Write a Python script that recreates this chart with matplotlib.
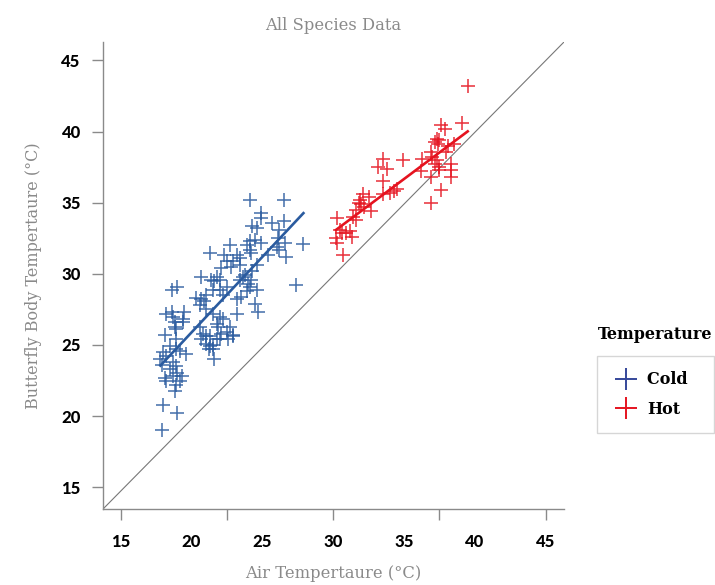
"""Butterfly body temperature vs air temperature, cold and hot groups."""

import matplotlib

matplotlib.use("Agg")
import matplotlib.pyplot as plt
import numpy as np
from matplotlib.lines import Line2D


cold_air = [
    24.1, 26.5, 24.9, 24.9, 24.3, 24.6, 25.7, 26.5, 26.2, 26.1,
    24.1, 24.5, 24.9, 23.9, 22.7, 26.6, 26.7, 26.2, 27.9, 25.4,
    24.1, 21.3, 22.3, 23.2, 23.4, 22.9, 22.5, 22.1, 24.6, 24.3,
    23.8, 24.2, 24.1, 24.6, 20.7, 21.8, 21.6, 22.0, 21.4, 27.4,
    23.4, 23.6, 18.6, 19.0, 22.5, 22.0, 21.5, 22.2, 21.0, 20.3,
    20.7, 20.6, 23.5, 23.2, 24.5, 24.7, 18.2, 18.6, 18.7, 19.5,
    19.4, 23.2, 21.0, 21.5, 22.0, 22.2, 21.8, 18.8, 18.8, 18.9,
    18.1, 20.6, 20.8, 21.0, 20.7, 21.0, 21.3, 22.7, 22.5, 22.9,
    22.1, 22.0, 22.6, 21.5, 21.6, 18.5, 18.9, 19.6, 18.0, 18.2,
    18.7, 18.9, 18.5, 19.0, 18.7, 19.2, 18.2, 18.9, 18.8, 17.8,
    17.9, 18.0, 19.0, 17.9, 24.2, 22.8, 24.0, 20.9, 21.9, 22.9,
    21.3, 21.8, 26.0, 23.4, 23.9, 19.2, 19.3, 21.5, 21.2, 18.9,
    19.4, 18.1,
]
cold_body = [
    35.2, 35.2, 34.3, 33.9, 33.4, 33.2, 33.6, 33.7, 33.1, 32.5,
    32.3, 32.4, 32.2, 32.0, 32.0, 32.2, 31.2, 31.7, 32.1, 31.3,
    31.7, 31.5, 31.3, 31.3, 31.1, 30.9, 30.9, 30.4, 30.6, 30.2,
    29.9, 29.6, 29.1, 28.9, 29.8, 29.8, 29.5, 29.6, 29.6, 29.2,
    29.6, 29.8, 28.9, 29.1, 29.1, 28.9, 28.9, 28.5, 28.5, 28.3,
    28.2, 27.8, 28.4, 28.2, 27.9, 27.3, 27.2, 27.3, 27.0, 27.3,
    26.8, 27.2, 27.5, 27.2, 27.0, 26.8, 26.5, 26.6, 26.3, 26.1,
    25.7, 26.3, 25.8, 25.6, 25.4, 25.1, 24.9, 26.3, 25.9, 25.7,
    25.8, 25.4, 25.4, 25.0, 24.0, 24.9, 24.7, 24.4, 24.5, 24.2,
    23.8, 23.5, 23.3, 23.0, 22.8, 22.5, 22.5, 22.2, 21.8, 24.0,
    23.6, 20.8, 20.2, 19.0, 31.5, 30.5, 29.3, 28.1, 26.3, 25.6,
    25.6, 25.4, 31.9, 30.6, 28.8, 24.6, 22.8, 24.7, 24.7, 25.4,
    26.6, 22.7,
]

hot_air = [
    39.5, 39.1, 37.6, 37.9, 37.3, 37.2, 37.5, 37.4, 38.5, 38.1,
    38.0, 36.9, 37.0, 37.3, 37.2, 37.5, 36.3, 36.2, 36.9, 38.3,
    38.3, 38.3, 37.5, 37.6, 36.9, 33.5, 33.2, 33.8, 33.5, 34.9,
    34.5, 34.3, 33.5, 32.1, 32.5, 31.9, 32.0, 32.2, 32.7, 31.6,
    31.4, 31.6, 30.3, 30.5, 30.6, 30.9, 31.2, 31.3, 30.2, 30.3,
    30.7, 31.8, 34.0,
]
hot_body = [
    43.2, 40.6, 40.5, 40.2, 39.5, 39.3, 39.4, 39.1, 39.1, 39.0,
    38.6, 38.6, 38.2, 38.0, 37.7, 37.5, 38.1, 37.2, 36.8, 37.7,
    37.3, 36.8, 37.3, 35.9, 35.0, 38.1, 37.5, 37.4, 36.5, 38.0,
    36.0, 35.8, 35.6, 35.6, 35.4, 35.2, 34.9, 34.7, 34.4, 34.5,
    34.0, 33.8, 33.9, 33.1, 32.9, 32.9, 33.0, 32.6, 32.5, 32.2,
    31.3, 35.0, 35.7,
]

x_labels = [15, 20, 25, 30, 35, 40, 45]
x_marks = [15, 22.5, 30, 37.5, 45]
y_labels = [15, 20, 25, 30, 35, 40, 45]

BLUE = "#2a5b9f"
RED = "#e5131f"
GREY = "#8a8a8a"
SERIF = "DejaVu Serif"


def fit_line(ax, x, y, color):
    x = np.asarray(x)
    y = np.asarray(y)
    slope, icpt = np.polyfit(x, y, 1)
    xs = np.array([x.min(), x.max()])
    ax.plot(xs, slope * xs + icpt, color=color, linewidth=1.9, zorder=4)


def main() -> None:
    fig = plt.figure(figsize=(7.15, 5.85), dpi=100)
    ax = fig.add_axes([0.1441, 0.1299, 0.6447, 0.7983])

    ax.plot([0, 1], [0, 1], transform=ax.transAxes, color="#777777", linewidth=0.8, zorder=1)

    ax.scatter(cold_air, cold_body, marker="+", s=100, linewidths=1.15, color=BLUE, alpha=0.85, zorder=3)
    ax.scatter(hot_air, hot_body, marker="+", s=100, linewidths=1.15, color=RED, alpha=0.85, zorder=3)
    fit_line(ax, cold_air, cold_body, BLUE)
    fit_line(ax, hot_air, hot_body, RED)

    ax.set_xlim(13.75, 46.3)
    ax.set_ylim(13.47, 46.3)

    for side in ("top", "right"):
        ax.spines[side].set_visible(False)
    for side in ("left", "bottom"):
        ax.spines[side].set_color(GREY)
        ax.spines[side].set_linewidth(1.0)

    ax.xaxis.remove_overlapping_locs = False
    ax.set_xticks(x_labels)
    ax.set_xticks(x_marks, minor=True)
    ax.set_yticks(y_labels)
    ax.tick_params(axis="x", which="major", length=0, pad=18)
    ax.tick_params(axis="x", which="minor", length=8, width=1, color=GREY)
    ax.tick_params(axis="y", which="major", length=8, width=1, color=GREY, pad=8)
    for lab in ax.get_xticklabels() + ax.get_yticklabels():
        lab.set_fontfamily("Lato")
        lab.set_fontweight("black")
        lab.set_fontsize(12)

    ax.set_title("All Species Data", fontsize=11.8, color=GREY, family=SERIF, pad=9)
    ax.set_xlabel("Air Tempertaure (\u00b0C)", fontsize=11.8, color=GREY, family=SERIF, labelpad=11)
    ax.set_ylabel("Butterfly Body Tempertaure (\u00b0C)", fontsize=11.5, color=GREY, family=SERIF, labelpad=14)

    fig.text(0.8365, 0.429, "Temperature", fontsize=11.5, fontweight="bold", family=SERIF,
             va="center", ha="left")
    handles = [
        Line2D([], [], linestyle="none", marker="+", markersize=16, markeredgewidth=1.4, color="#35479a"),
        Line2D([], [], linestyle="none", marker="+", markersize=16, markeredgewidth=1.4, color=RED),
    ]
    leg = fig.legend(
        handles, ["Cold  ", "Hot"], loc="upper left", bbox_to_anchor=(0.835, 0.3915),
        bbox_transform=fig.transFigure, fancybox=False, edgecolor="#cccccc",
        prop={"family": SERIF, "weight": "bold", "size": 11.5},
        handlelength=1.75, handletextpad=0.45, borderpad=0.95, labelspacing=0.8,
        borderaxespad=0,
    )
    leg.get_frame().set_linewidth(1.0)

    fig.savefig("out.png", dpi=100)
    plt.close(fig)


if __name__ == "__main__":
    main()
